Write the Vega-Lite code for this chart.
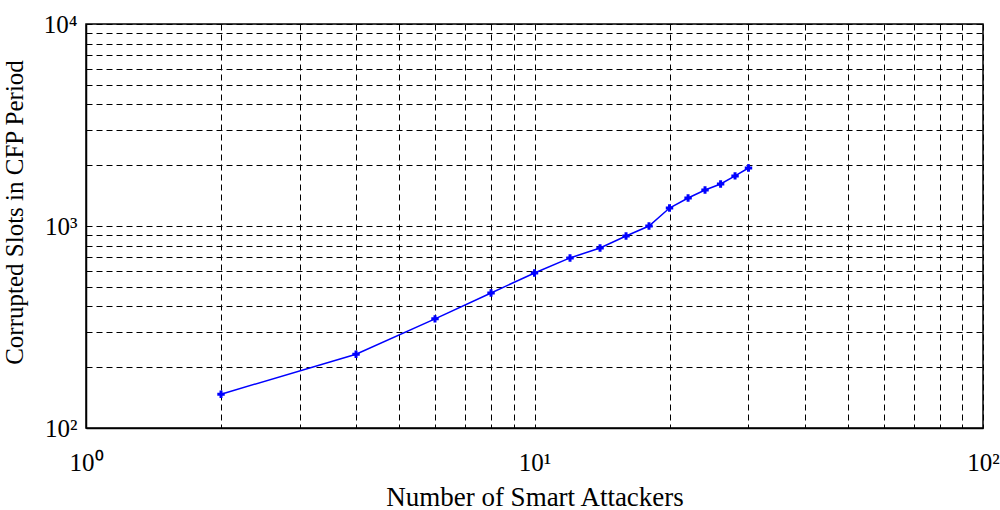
{
  "$schema": "https://vega.github.io/schema/vega-lite/v6.json",
  "autosize": "none",
  "width": 897,
  "height": 404,
  "padding": {"left": 86, "top": 24, "right": 17, "bottom": 82},
  "background": "white",
  "config": {
    "view": {"stroke": "black", "strokeWidth": 1.5},
    "font": "Liberation Serif"
  },
  "data": {
    "values": [
      {"attackers": 2, "slots": 147},
      {"attackers": 4, "slots": 232},
      {"attackers": 6, "slots": 347},
      {"attackers": 8, "slots": 466},
      {"attackers": 10, "slots": 585},
      {"attackers": 12, "slots": 695},
      {"attackers": 14, "slots": 778},
      {"attackers": 16, "slots": 892},
      {"attackers": 18, "slots": 1000},
      {"attackers": 20, "slots": 1227},
      {"attackers": 22, "slots": 1376},
      {"attackers": 24, "slots": 1508},
      {"attackers": 26, "slots": 1615},
      {"attackers": 28, "slots": 1770},
      {"attackers": 30, "slots": 1937}
    ]
  },
  "encoding": {
    "x": {
      "field": "attackers", "type": "quantitative",
      "scale": {"type": "log", "domain": [1, 100], "nice": false},
      "axis": {
        "title": "Number of Smart Attackers",
        "values": [1,2,3,4,5,6,7,8,9,10,20,30,40,50,60,70,80,90,100],
        "labelExpr": "datum.value == 1 ? '10⁰' : datum.value == 10 ? '10¹' : datum.value == 100 ? '10²' : ''",
        "labelFont": "Liberation Serif", "labelFontSize": 25, "labelColor": "black",
        "labelBaseline": "middle", "labelPadding": 34, "labelOverlap": false, "labelFlush": false,
        "ticks": false,
        "domainColor": "black", "domainWidth": 1.5,
        "grid": true, "gridColor": "black", "gridDash": [6, 4], "gridOpacity": 1, "gridWidth": 1,
        "titleFont": "Liberation Serif", "titleFontSize": 27, "titleFontWeight": "normal", "titleColor": "black",
        "titleBaseline": "middle", "titleY": 69
      }
    },
    "y": {
      "field": "slots", "type": "quantitative",
      "scale": {"type": "log", "domain": [100, 10000], "nice": false},
      "axis": {
        "title": "Corrupted Slots in CFP Period",
        "values": [100,200,300,400,500,600,700,800,900,1000,2000,3000,4000,5000,6000,7000,8000,9000,10000],
        "labelExpr": "datum.value == 100 ? '10²' : datum.value == 1000 ? '10³' : datum.value == 10000 ? '10⁴' : ''",
        "labelFont": "Liberation Serif", "labelFontSize": 25, "labelColor": "black",
        "labelPadding": 9, "labelOverlap": false, "labelFlush": false,
        "ticks": false,
        "domainColor": "black", "domainWidth": 1.5,
        "grid": true, "gridColor": "black", "gridDash": [6, 4], "gridOpacity": 1, "gridWidth": 1,
        "titleFont": "Liberation Serif", "titleFontSize": 25, "titleFontWeight": "normal", "titleColor": "black",
        "titleBaseline": "middle", "titleX": -72, "titleY": 188
      }
    }
  },
  "layer": [
    {"mark": {"type": "line", "color": "#0000ff", "strokeWidth": 1.5}},
    {"mark": {"type": "point", "shape": "cross", "size": 55, "color": "#0000ff", "filled": true, "opacity": 1}}
  ]
}
